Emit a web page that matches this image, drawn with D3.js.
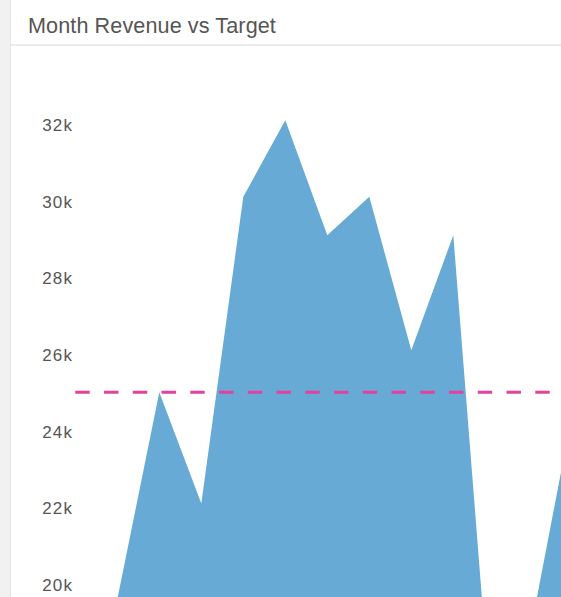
<!DOCTYPE html>
<html>
<head>
<meta charset="utf-8">
<script src="https://cdn.jsdelivr.net/npm/d3@7"></script>
<style>
  html, body { margin: 0; padding: 0; background: #f1f1f1; overflow: hidden; }
  #panel {
    position: absolute; left: 10px; top: 0; width: 560px; height: 597px;
    background: #fff; border-left: 1px solid #e4e4e4;
  }
  #header {
    height: 46px; border-bottom: 2px solid #ececec;
    font-family: "Liberation Sans", Arial, sans-serif; font-size: 21.6px; color: #555;
    line-height: 52px; padding-left: 17px; box-sizing: border-box; letter-spacing: 0.1px;
  }
  svg { position: absolute; left: 0; top: 0; }
  .y.axis text { font-family: "Liberation Sans", Arial, sans-serif; font-size: 17px; fill: #555; letter-spacing: 1.2px; }
</style>
</head>
<body>
<div id="panel"><div id="header">Month Revenue vs Target</div></div>
<script>
// days of the month shown in the panel
var days = [1, 2, 3, 4, 5, 6, 7, 8, 9, 10, 11, 12, 13];
// revenue per day
var revenue = [17500, 19600, 25000, 22100, 30100, 32100, 29100, 30100, 26100, 29100, 15200, 19700, 25400];
var target = 25000;
var yTicks = [20000, 22000, 24000, 26000, 28000, 30000, 32000];

var width = 561, height = 597;

var svg = d3.select("body").append("svg")
    .attr("width", width)
    .attr("height", height);

var x = d3.scaleLinear()
    .domain([1, 13])
    .range([75.3, 579.3]);

var y = d3.scaleLinear()
    .domain([20000, 32000])
    .range([584, 124]);

var area = d3.area()
    .x(function(d, i) { return x(days[i]); })
    .y0(y(10000))
    .y1(function(d) { return y(d); });

svg.append("path")
    .datum(revenue)
    .attr("fill", "#66aad5")
    .attr("d", area);

svg.append("g")
    .attr("class", "y axis")
    .attr("transform", "translate(73.2,1)")
    .call(d3.axisLeft(y).tickValues(yTicks).tickSize(0).tickPadding(0).tickFormat(d3.format("~s")))
    .call(function(g) { g.select(".domain").remove(); });

svg.append("line")
    .attr("x1", x(1))
    .attr("x2", width)
    .attr("y1", y(target))
    .attr("y2", y(target))
    .attr("stroke", "#e5409d")
    .attr("stroke-width", 3)
    .attr("stroke-dasharray", "14.4,14.35");
</script>
</body>
</html>
